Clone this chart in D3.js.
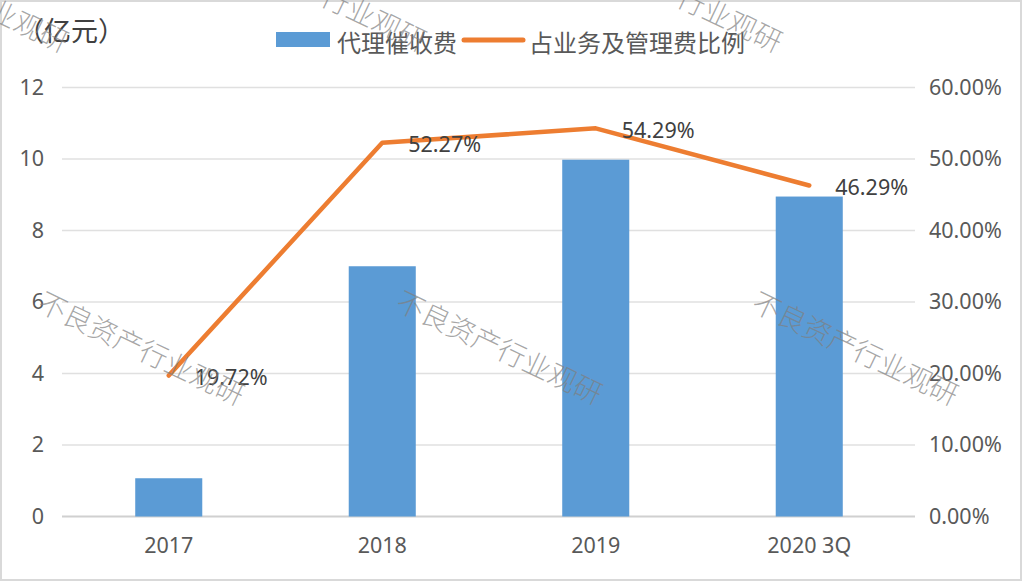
<!DOCTYPE html>
<html>
<head>
<meta charset="utf-8">
<script src="https://cdn.jsdelivr.net/npm/d3@7/dist/d3.min.js"></script>
<style>
  html, body { margin: 0; padding: 0; background: #fff; }
  svg { display: block; }
</style>
</head>
<body>
<svg id="chart" width="1024" height="582"></svg>
<script>
// ---- data ----
const categories = ["2017", "2018", "2019", "2020 3Q"];
const feeValues = [1.07, 7.0, 9.98, 8.95];          // 代理催收费 (亿元)
const ratioValues = [19.72, 52.27, 54.29, 46.29];   // 占业务及管理费比例 (%)
const leftTicks = [0, 2, 4, 6, 8, 10, 12];
const rightTicks = [0, 10, 20, 30, 40, 50, 60];
const seriesNames = ["代理催收费", "占业务及管理费比例"];
const unitLabel = "（亿元）";
const watermarkText = "不良资产行业观研";

// ---- layout ----
const W = 1024, H = 582;
const plot = { left: 62, right: 916, top: 87.5, bottom: 516.5 };
const numFont = "'Noto Sans', 'DejaVu Sans', sans-serif";
const cjkFont = "'Noto Sans CJK SC', 'Noto Sans', sans-serif";
const barColor = "#5B9BD5", lineColor = "#ED7D31";

const svg = d3.select("#chart");

// outer border
svg.append("rect")
  .attr("x", 1).attr("y", 1).attr("width", 1020).attr("height", 579)
  .attr("fill", "#fff").attr("stroke", "#d9d9d9").attr("stroke-width", 2);

const x = d3.scaleBand().domain(categories)
  .range([plot.left, plot.right])
  .paddingInner(0.686).paddingOuter(0.343);
const yL = d3.scaleLinear().domain([0, 12]).range([plot.bottom, plot.top]);
const yR = d3.scaleLinear().domain([0, 60]).range([plot.bottom, plot.top]);

// gridlines
svg.append("g").selectAll("line").data(leftTicks).join("line")
  .attr("x1", plot.left).attr("x2", plot.right - 1)
  .attr("y1", d => yL(d)).attr("y2", d => yL(d))
  .attr("stroke", d => d === 0 ? "#d0d0d0" : "#e0e0e0")
  .attr("stroke-width", d => d === 0 ? 2 : 1.5);

// left axis
const axL = svg.append("g")
  .attr("transform", `translate(${plot.left - 18},0)`)
  .call(d3.axisLeft(yL).tickValues(leftTicks).tickSize(0).tickPadding(0).tickFormat(d3.format("d")));
axL.select(".domain").remove();
axL.selectAll("text").attr("font-family", numFont).attr("font-size", 21.5).attr("fill", "#595959");

// right axis
const axR = svg.append("g")
  .attr("transform", `translate(${plot.right + 13},0)`)
  .call(d3.axisRight(yR).tickValues(rightTicks).tickSize(0).tickPadding(0).tickFormat(d => d.toFixed(2) + "%"));
axR.select(".domain").remove();
axR.selectAll("text").attr("font-family", numFont).attr("font-size", 21.5).attr("fill", "#595959");

// bottom axis
const axB = svg.append("g")
  .attr("transform", `translate(0,${plot.bottom + 21})`)
  .call(d3.axisBottom(x).tickSize(0).tickPadding(0));
axB.select(".domain").remove();
axB.selectAll("text").attr("font-family", numFont).attr("font-size", 21.5).attr("fill", "#595959")
  .attr("dy", "0.71em");

// bars
svg.append("g").selectAll("rect").data(feeValues).join("rect")
  .attr("x", (d, i) => x(categories[i]))
  .attr("width", x.bandwidth())
  .attr("y", d => yL(d))
  .attr("height", d => yL(0) - yL(d))
  .attr("fill", barColor);

// line
const line = d3.line()
  .x((d, i) => x(categories[i]) + x.bandwidth() / 2)
  .y(d => yR(d));
svg.append("path").datum(ratioValues)
  .attr("d", line)
  .attr("fill", "none").attr("stroke", lineColor).attr("stroke-width", 4.5)
  .attr("stroke-linejoin", "round").attr("stroke-linecap", "round");

// data labels
svg.append("g").selectAll("text").data(ratioValues).join("text")
  .attr("x", (d, i) => x(categories[i]) + x.bandwidth() / 2 + 26)
  .attr("y", d => yR(d) + 1)
  .attr("dominant-baseline", "central")
  .attr("font-family", numFont).attr("font-size", 21.5).attr("fill", "#404040")
  .text(d => d.toFixed(2) + "%");

// unit label
svg.append("text")
  .attr("x", 17).attr("y", 29)
  .attr("dominant-baseline", "central")
  .attr("font-family", cjkFont).attr("font-size", 27).attr("fill", "#404040")
  .text(unitLabel);

// legend
const lg = svg.append("g");
lg.append("rect").attr("x", 276).attr("y", 32).attr("width", 54).attr("height", 15).attr("fill", barColor);
lg.append("text").attr("x", 337).attr("y", 41).attr("dominant-baseline", "central")
  .attr("font-family", cjkFont).attr("font-size", 24).attr("fill", "#595959").text(seriesNames[0]);
lg.append("line").attr("x1", 464).attr("x2", 523).attr("y1", 40).attr("y2", 40)
  .attr("stroke", lineColor).attr("stroke-width", 5).attr("stroke-linecap", "round");
lg.append("text").attr("x", 529).attr("y", 41).attr("dominant-baseline", "central")
  .attr("font-family", cjkFont).attr("font-size", 24).attr("fill", "#595959").text(seriesNames[1]);

// watermarks
const wmCenters = [[142, 347], [500, 346], [856, 347], [-34, -6], [324, -7], [680, -6]];
svg.append("g").selectAll("text").data(wmCenters).join("text")
  .attr("transform", d => `translate(${d[0]},${d[1]}) rotate(25.5)`)
  .attr("text-anchor", "middle").attr("dominant-baseline", "central")
  .attr("font-family", cjkFont).attr("font-size", 28).attr("font-weight", 300)
  .attr("fill", "#7f7f7f").attr("fill-opacity", 0.7)
  .text(watermarkText);
</script>
</body>
</html>
